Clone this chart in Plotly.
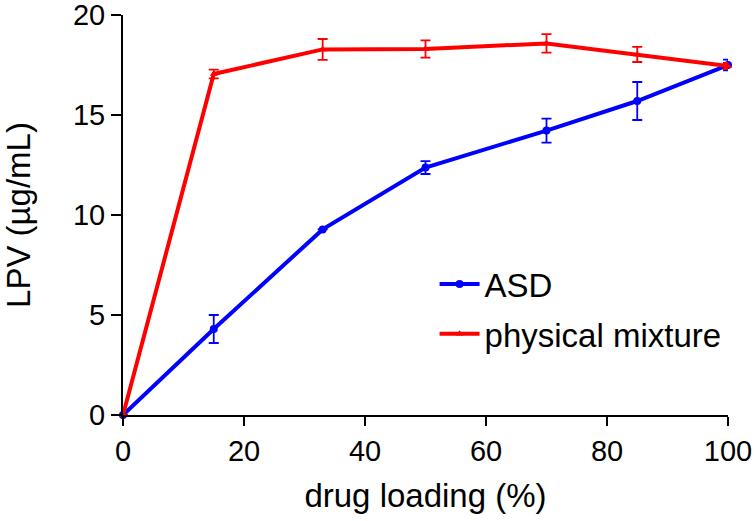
import plotly.graph_objects as go

drug_loading = [0, 15, 33, 50, 70, 85, 100]

asd_mean = [0, 4.3, 9.28, 12.37, 14.22, 15.7, 17.5]
asd_err = [0, 0.7, 0.0, 0.32, 0.6, 0.95, 0.27]

pm_mean = [0, 17.05, 18.28, 18.3, 18.58, 18.03, 17.45]
pm_err = [0, 0.22, 0.52, 0.43, 0.46, 0.38, 0.15]

FONT = "Arial, Liberation Sans, sans-serif"

fig = go.Figure()
fig.add_trace(go.Scatter(
    x=drug_loading, y=asd_mean, name="ASD", mode="lines+markers",
    line=dict(color="#0000ff", width=4),
    marker=dict(symbol="circle", size=8, color="#0000ff"),
    error_y=dict(type="data", array=asd_err, visible=True, color="#0000ff", thickness=1.8, width=5),
    legendgroup="a", cliponaxis=False,
))
fig.add_trace(go.Scatter(
    x=drug_loading, y=pm_mean, name="physical mixture", mode="lines+markers",
    line=dict(color="#ff0000", width=4),
    marker=dict(symbol="triangle-up", size=7, color="#ff0000"),
    error_y=dict(type="data", array=pm_err, visible=True, color="#ff0000", thickness=1.8, width=5),
    legendgroup="b", cliponaxis=False,
))

fig.update_layout(
    width=754, height=521,
    margin=dict(l=123, r=26, t=15, b=106),
    paper_bgcolor="white", plot_bgcolor="white",
    font=dict(family=FONT, size=29, color="black"),
    showlegend=True,
    legend=dict(
        x=0.515, y=0.3975, xanchor="left", yanchor="top",
        bgcolor="rgba(0,0,0,0)", font=dict(size=33, family=FONT, color="black"),
        traceorder="grouped", tracegroupgap=4, itemwidth=40,
    ),
    xaxis=dict(
        range=[0, 100], tickvals=[0, 20, 40, 60, 80, 100], automargin=False,
        ticklabeloverflow="allow",
        showgrid=False, zeroline=False, showline=True, linecolor="black", linewidth=2,
        ticks="outside", ticklen=9, tickwidth=2, tickcolor="black",
        tickfont=dict(size=29, family=FONT),
        title=dict(text="drug loading (%)", font=dict(size=33, family=FONT), standoff=18),
    ),
    yaxis=dict(
        range=[0, 20], tickvals=[0, 5, 10, 15, 20], automargin=False,
        ticklabeloverflow="allow",
        showgrid=False, zeroline=False, showline=True, linecolor="black", linewidth=2,
        ticks="outside", ticklen=10, tickwidth=2, tickcolor="black",
        tickfont=dict(size=29, family=FONT),
        title=dict(text="LPV (µg/mL)", font=dict(size=33, family=FONT), standoff=36),
    ),
)

fig.write_html("out.html", config={"displayModeBar": False},
               post_script="document.body.style.margin='0';")
